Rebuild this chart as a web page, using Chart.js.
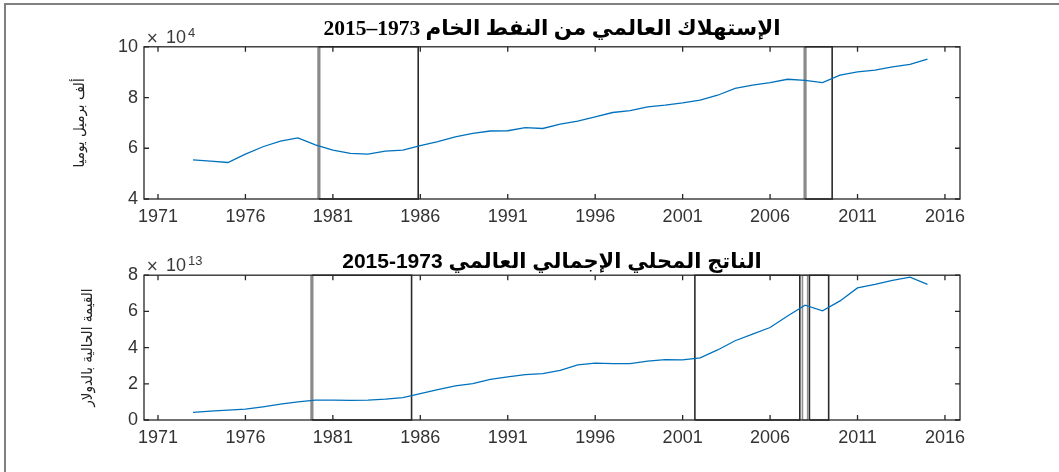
<!DOCTYPE html>
<html>
<head>
<meta charset="utf-8">
<script src="https://cdn.jsdelivr.net/npm/chart.js@4/dist/chart.umd.min.js"></script>
<style>
    body { margin: 0; background: #fff; }
    #frame { position: absolute; left: 4px; top: 3px; width: 1055px; height: 469px;
             border-top: 2px solid #808080; border-left: 2px solid #808080; }
    .panel { position: absolute; left: 0; width: 1059px; height: 236px; }
</style>
</head>
<body>
<div id="frame"></div>
<div class="panel" style="top:0"><canvas id="oilChart"></canvas></div>
<div class="panel" style="top:236px"><canvas id="gdpChart"></canvas></div>
<script>
// years of the series
var years = [1973, 1974, 1975, 1976, 1977, 1978, 1979, 1980, 1981, 1982,
             1983, 1984, 1985, 1986, 1987, 1988, 1989, 1990, 1991, 1992,
             1993, 1994, 1995, 1996, 1997, 1998, 1999, 2000, 2001, 2002,
             2003, 2004, 2005, 2006, 2007, 2008, 2009, 2010, 2011, 2012,
             2013, 2014, 2015];

// world oil consumption, thousand barrels per day
var oil = [55400, 54900, 54400, 57700, 60600, 62800, 64100, 61300, 59300, 58000,
           57700, 58900, 59300, 61000, 62600, 64500, 65900, 66800, 66900, 68100,
           67800, 69500, 70700, 72400, 74100, 74800, 76300, 77000, 77900, 79000,
           80900, 83600, 84900, 85900, 87200, 86800, 85900, 88800, 90100, 90800,
           92100, 93100, 95100];

// world GDP, current US dollars
var gdp = [4.2e12, 4.9e12, 5.5e12, 6.0e12, 7.3e12, 8.8e12, 10.0e12, 11.0e12, 11.0e12, 10.8e12,
           11.0e12, 11.5e12, 12.4e12, 14.6e12, 16.8e12, 18.8e12, 20.1e12, 22.5e12, 23.8e12, 25.1e12,
           25.6e12, 27.4e12, 30.5e12, 31.4e12, 31.2e12, 31.2e12, 32.5e12, 33.4e12, 33.2e12, 34.3e12,
           38.7e12, 43.8e12, 47.5e12, 51.1e12, 57.5e12, 63.4e12, 60.3e12, 65.8e12, 73.0e12, 74.9e12,
           77.1e12, 78.9e12, 74.9e12];

// crisis periods drawn as boxes [from, to]
var oilBoxes = [[1980.2, 1985.88], [2008.0, 2009.55]];
var gdpBoxes = [[1979.8, 1985.5], [2001.7, 2007.7], [2007.85, 2008.15], [2008.25, 2009.35]];

var xTicks = [1971, 1976, 1981, 1986, 1991, 1996, 2001, 2006, 2011, 2016];
var oilTicks = [40000, 60000, 80000, 100000];
var gdpTicks = [0, 2e13, 4e13, 6e13, 8e13];

var oilTitle = "\u202Bالإستهلاك العالمي من النفط الخام 1973–2015\u202C";
var gdpTitle = "\u202Bالناتج المحلي الإجمالي العالمي 1973-2015\u202C";
var oilLabel = "ألف برميل يوميا";
var gdpLabel = "القيمة الحالية بالدولار";

var tickFont = { family: '"Liberation Sans", Arial, sans-serif', size: 18 };

function points(xs, ys) {
    return xs.map(function (x, i) { return { x: x, y: ys[i] }; });
}

function boxSets(ranges, lo, hi, grayLeft, grayAll) {
    return ranges.map(function (r, i) {
        return {
            data: [{ x: r[0], y: lo }, { x: r[0], y: hi }, { x: r[1], y: hi }, { x: r[1], y: lo }, { x: r[0], y: lo }],
            borderColor: "#2a2a2a",
            borderWidth: 1.6,
            pointRadius: 0,
            fill: false,
            clip: 4,
            segment: {
                borderColor: function (c) {
                    if (grayAll.indexOf(i) >= 0) return "#8f8f8f";
                    return (c.p0DataIndex === 0 && grayLeft.indexOf(i) >= 0) ? "#8a8a8a" : "#2a2a2a";
                },
                borderWidth: function (c) {
                    return (c.p0DataIndex === 0 && grayLeft.indexOf(i) >= 0) ? 3.2 : 1.6;
                }
            }
        };
    });
}

// box, inward ticks and the x10^n exponent, MATLAB style
var matlabAxes = {
    id: "matlabAxes",
    afterDatasetsDraw: function (chart, args, opts) {
        var ctx = chart.ctx, a = chart.chartArea, x = chart.scales.x, y = chart.scales.y;
        ctx.save();
        ctx.strokeStyle = "#262626";
        ctx.lineWidth = 1.3;
        ctx.strokeRect(a.left, a.top, a.right - a.left, a.bottom - a.top);
        ctx.beginPath();
        x.ticks.forEach(function (t) {
            var px = x.getPixelForValue(t.value);
            ctx.moveTo(px, a.bottom); ctx.lineTo(px, a.bottom - 5);
            ctx.moveTo(px, a.top); ctx.lineTo(px, a.top + 5);
        });
        y.ticks.forEach(function (t) {
            var py = y.getPixelForValue(t.value);
            ctx.moveTo(a.left, py); ctx.lineTo(a.left + 5, py);
            ctx.moveTo(a.right, py); ctx.lineTo(a.right - 5, py);
        });
        ctx.stroke();

        ctx.direction = "ltr";
        ctx.fillStyle = "#3a3a3a";
        ctx.textBaseline = "alphabetic";
        ctx.textAlign = "left";
        ctx.font = '15px "DejaVu Sans", sans-serif';
        ctx.fillText("×", a.left + 2, a.top - 4);
        ctx.font = '18px "Liberation Sans", Arial, sans-serif';
        ctx.fillText("10", a.left + 22, a.top - 4);
        ctx.font = '13px "Liberation Sans", Arial, sans-serif';
        ctx.fillText(opts.exp, a.left + 44, a.top - 10);
        ctx.restore();
    }
};

function makeChart(id, series, boxes, lo, hi, yTicks, div, title, label, o) {
    return new Chart(document.getElementById(id), {
        type: "line",
        data: {
            datasets: [{
                data: points(years, series),
                borderColor: "#0072BD",
                borderWidth: 1.3,
                pointRadius: 0,
                tension: 0,
                fill: false
            }].concat(boxes)
        },
        options: {
            responsive: true,
            maintainAspectRatio: false,
            animation: false,
            layout: { padding: { left: 58, right: 99, top: 0, bottom: 0 } },
            plugins: {
                legend: { display: false },
                tooltip: { enabled: false },
                title: {
                    display: true,
                    text: title,
                    fullSize: false,
                    color: "#000",
                    font: o.titleFont,
                    padding: { top: o.titleTop, bottom: o.titleBottom }
                },
                matlabAxes: { exp: o.exp }
            },
            scales: {
                x: {
                    type: "linear",
                    min: 1970.2,
                    max: 2016.86,
                    grid: { display: false, drawTicks: false },
                    border: { display: false },
                    afterBuildTicks: function (s) { s.ticks = xTicks.map(function (v) { return { value: v }; }); },
                    afterFit: function (s) { s.height = o.xHeight; },
                    ticks: {
                        autoSkip: false, maxRotation: 0, padding: 7,
                        color: "#333", font: tickFont,
                        callback: function (v) { return String(v); }
                    }
                },
                y: {
                    min: lo,
                    max: hi,
                    grid: { display: false, drawTicks: false },
                    border: { display: false },
                    afterBuildTicks: function (s) { s.ticks = yTicks.map(function (v) { return { value: v }; }); },
                    afterFit: function (s) { s.width = 86; },
                    ticks: {
                        padding: 6, color: "#333", font: tickFont,
                        callback: function (v) { return String(Math.round(v / div)); }
                    },
                    title: {
                        display: true,
                        text: label,
                        color: "#222",
                        font: { family: '"DejaVu Sans Condensed", "DejaVu Sans", sans-serif', size: 15 },
                        padding: { top: o.labelPad, bottom: 0 }
                    }
                }
            }
        },
        plugins: [matlabAxes]
    });
}

makeChart("oilChart", oil, boxSets(oilBoxes, 40000, 100000, [0, 1], []), 40000, 100000, oilTicks, 1e4,
    oilTitle, oilLabel, {
        titleFont: { family: '"Liberation Serif", "DejaVu Sans", serif', size: 21.5, weight: "bold" },
        titleTop: 17, titleBottom: 4, xHeight: 37, labelPad: 13, exp: "4"
    });

makeChart("gdpChart", gdp, boxSets(gdpBoxes, 0, 8e13, [0], [2]), 0, 8e13, gdpTicks, 1e13,
    gdpTitle, gdpLabel, {
        titleFont: { family: '"Liberation Sans", "DejaVu Sans", sans-serif', size: 21, weight: "bold" },
        titleTop: 14, titleBottom: 0, xHeight: 52, labelPad: 21, exp: "13"
    });
</script>
</body>
</html>
